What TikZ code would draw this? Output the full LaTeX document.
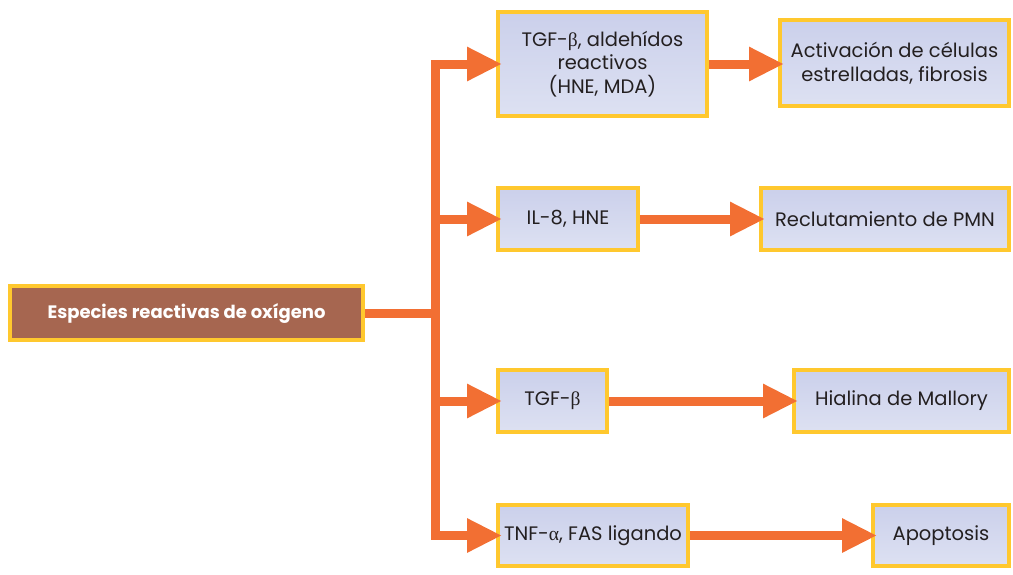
\documentclass[tikz,border=0pt]{standalone}
\usepackage{fontspec}
\setmainfont{Poppins}
\newfontfamily\grk{Liberation Serif}
\usetikzlibrary{arrows.meta}
\definecolor{orng}{HTML}{F26F33}
\definecolor{gold}{HTML}{FFC82E}
\definecolor{brn}{HTML}{A66650}
\definecolor{btop}{HTML}{CBD0EB}
\definecolor{bbot}{HTML}{DDE1F2}
\definecolor{ink}{HTML}{231F20}
\begin{document}
\begin{tikzpicture}[x=1pt,y=1pt,
 box/.style={draw=gold, line width=4pt, top color=btop, bottom color=bbot, inner sep=0pt, align=center, font=\fontsize{19.5}{23.5}\selectfont, text=ink},
 src/.style={draw=gold, line width=4pt, fill=brn, text=white, font=\bfseries\fontsize{18}{21}\selectfont, inner sep=0pt},
 conn/.style={draw=orng, line width=9pt},
 arr/.style={conn, -{Triangle[length=35pt,width=32pt]}, shorten >=-6pt}
]
\useasboundingbox (0,0) rectangle (1013,-574);
\node[src, minimum width=353pt, minimum height=54pt] (src) at (186.5,-313) {Especies reactivas de oxígeno};
\node[box, minimum width=209pt, minimum height=104pt] (b1) at (602.5,-64) {TGF-{\grk β}, aldehídos\\reactivos\\(HNE, MDA)};
\node[box, minimum width=140pt, minimum height=62pt] (b2) at (568,-219) {IL-8, HNE};
\node[box, minimum width=109pt, minimum height=62pt] (b3) at (552.5,-401) {TGF-{\grk β}};
\node[box, minimum width=190pt, minimum height=61pt] (b4) at (593,-535.5) {TNF-{\grk α}, FAS ligando};
\node[box, minimum width=229pt, minimum height=86pt] (r1) at (894.5,-63) {Activación de células\\estrelladas, fibrosis};
\node[box, minimum width=248pt, minimum height=62pt] (r2) at (885,-219) {Reclutamiento de PMN};
\node[box, minimum width=215pt, minimum height=62pt] (r3) at (901.5,-401) {Hialina de Mallory};
\node[box, minimum width=136pt, minimum height=61pt] (r4) at (941,-535.5) {Apoptosis};
\coordinate (tx) at (435,0);
\draw[conn] (src.east) -- (tx |- src.east);
\draw[arr] (tx |- b4.west) -- (tx |- b1.west) -- (b1.west);
\draw[arr] (tx |- b1.west) -- (tx |- b4.west) -- (b4.west);
\draw[arr] (tx |- b2.west) -- (b2.west);
\draw[arr] (tx |- b3.west) -- (b3.west);
\draw[arr] (b1.east) -- (b1.east -| r1.west);
\draw[arr] (b2.east) -- (r2.west);
\draw[arr] (b3.east) -- (r3.west);
\draw[arr] (b4.east) -- (r4.west);
\end{tikzpicture}
\end{document}
